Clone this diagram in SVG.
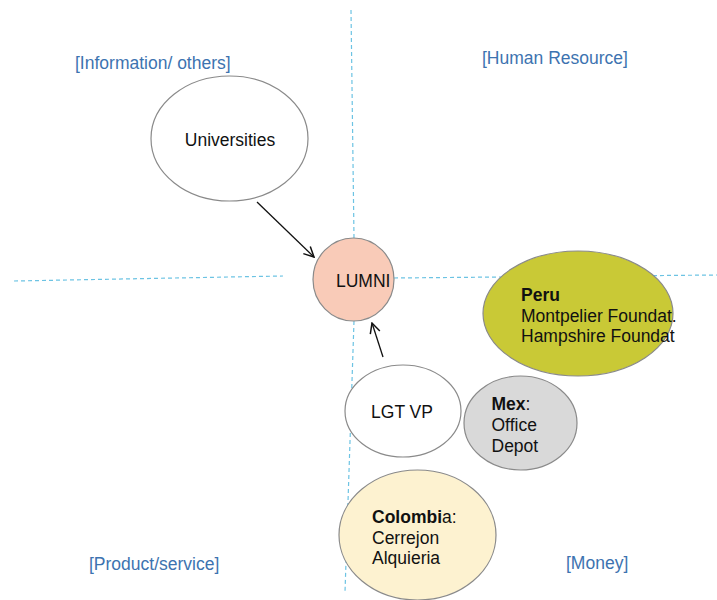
<svg xmlns="http://www.w3.org/2000/svg" width="717" height="600" viewBox="0 0 717 600">
<style>
  .lbl { font-family: "Liberation Sans", Arial, sans-serif; font-size: 17.5px; fill: #3d73b0; }
  .txt { font-family: "Liberation Sans", Arial, sans-serif; font-size: 17.5px; fill: #111; }
  .b { font-weight: bold; }
  .node { stroke: #8a8a8a; stroke-width: 1.2; }
  .guide { stroke: #6cc3e3; stroke-width: 1.2; stroke-dasharray: 4 3; fill: none; }
  .conn { stroke: #111; stroke-width: 1.3; fill: none; marker-end: url(#arr); }
</style>
<defs>
  <marker id="arr" viewBox="0 0 12 12" refX="11" refY="6" markerWidth="12" markerHeight="12" markerUnits="userSpaceOnUse" orient="auto">
    <path d="M1,1 L11,6 L1,11" fill="none" stroke="#111" stroke-width="1.5"/>
  </marker>
</defs>
<rect width="717" height="600" fill="#fff"/>
<g id="guides">
  <line class="guide" x1="351" y1="10" x2="354" y2="238"/>
  <line class="guide" x1="354" y1="321" x2="345" y2="592"/>
  <line class="guide" x1="14" y1="281" x2="283" y2="276"/>
  <line class="guide" x1="394" y1="278" x2="717" y2="275"/>
</g>
<g id="labels">
  <text class="lbl" x="75" y="69">[Information/ others]</text>
  <text class="lbl" x="482" y="64">[Human Resource]</text>
  <text class="lbl" x="89" y="570">[Product/service]</text>
  <text class="lbl" x="566" y="569">[Money]</text>
</g>
<g id="universities">
  <ellipse class="node" cx="229.5" cy="138.5" rx="78.5" ry="62.5" fill="#fff"/>
  <text class="txt" x="230" y="146" text-anchor="middle">Universities</text>
</g>
<g id="lumni">
  <ellipse class="node" cx="353.5" cy="279.5" rx="40.5" ry="41.5" fill="#f9cbb8" stroke="#a08878"/>
  <text class="txt" x="336" y="287">LUMNI</text>
</g>
<g id="lgtvp">
  <ellipse class="node" cx="403" cy="411" rx="58" ry="46" fill="#fff"/>
  <text class="txt" x="402" y="418" text-anchor="middle">LGT VP</text>
</g>
<g id="peru">
  <ellipse class="node" cx="578" cy="313.5" rx="95" ry="62.5" fill="#c9c936" stroke="#9c9c66"/>
  <text class="txt" x="521" y="301"><tspan class="b">Peru</tspan></text>
  <text class="txt" x="521" y="322">Montpelier Foundat.</text>
  <text class="txt" x="521" y="342">Hampshire Foundat</text>
</g>
<g id="mex">
  <ellipse class="node" cx="520.5" cy="423" rx="56.5" ry="47" fill="#d9d9d9"/>
  <text class="txt" x="491.5" y="410"><tspan class="b">Mex</tspan>:</text>
  <text class="txt" x="491.5" y="431">Office</text>
  <text class="txt" x="491.5" y="452">Depot</text>
</g>
<g id="colombia">
  <ellipse class="node" cx="417.5" cy="535" rx="78.5" ry="65" fill="#fdf2d0"/>
  <text class="txt" x="372" y="523"><tspan class="b">Colombi</tspan>a:</text>
  <text class="txt" x="372" y="544">Cerrejon</text>
  <text class="txt" x="372" y="564">Alquieria</text>
</g>
<g id="connectors">
  <line class="conn" x1="257" y1="202" x2="314" y2="257"/>
  <line class="conn" x1="383" y1="357" x2="372" y2="323"/>
</g>
</svg>
